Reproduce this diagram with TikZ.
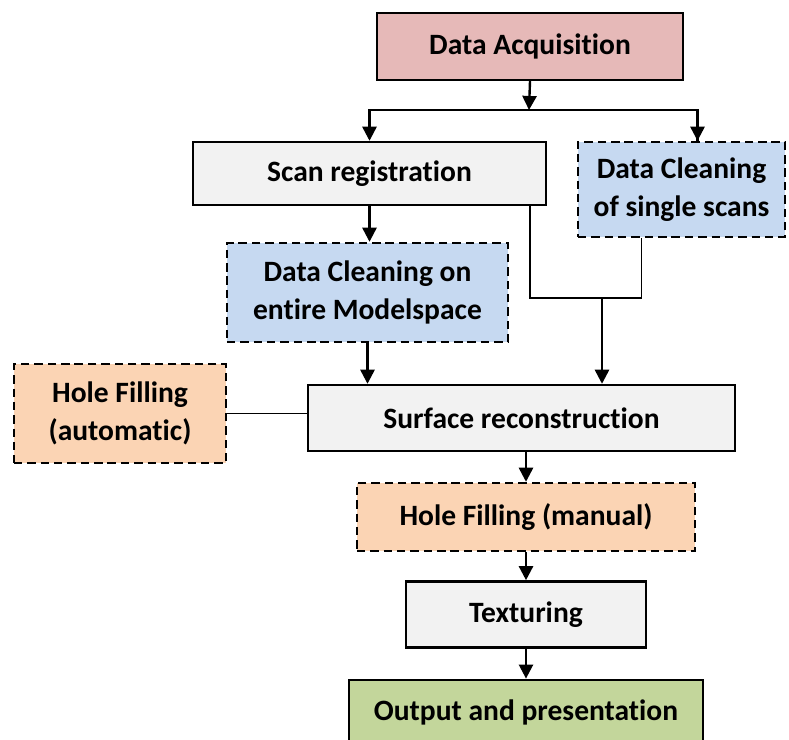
\documentclass[tikz,border=0pt]{standalone}
\usepackage{fontspec}
\setmainfont{Carlito}[Ligatures=NoCommon]
\usepackage{tikz}
\usetikzlibrary{arrows.meta, positioning, calc}
\definecolor{acqfill}{HTML}{E6B9B8}
\definecolor{stepfill}{HTML}{F2F2F2}
\definecolor{cleanfill}{HTML}{C6D9F1}
\definecolor{holefill}{HTML}{FBD4B4}
\definecolor{outfill}{HTML}{C3D69B}

\begin{document}
\begin{tikzpicture}[
  x=0.025cm, y=-0.025cm,
  box/.style={draw=black, line width=1.7pt, fill=stepfill,
              inner sep=2pt, align=center,
              font=\fontsize{21}{27}\selectfont\bfseries},
  opt/.style={box, dash pattern=on 6pt off 3.5pt},
  arr/.style={-{Triangle[length=10pt, width=10pt]}, line width=1.7pt},
  link/.style={line width=0.8pt}
]
  \useasboundingbox (0,0) rectangle (789,740);

  % Acquisition and registration
  \node[box, fill=acqfill, minimum width=7.65cm, minimum height=1.675cm]
    (acq) at (530,46.5) {Data Acquisition};
  \node[box, minimum width=8.825cm, minimum height=1.575cm]
    (scan) at (369.5,173.5) {Scan registration};
  \node[opt, fill=cleanfill, minimum width=5.175cm, minimum height=2.375cm]
    (single) at (681.5,189.5) {Data Cleaning\\of single scans};
  \node[opt, fill=cleanfill, minimum width=7.025cm, minimum height=2.475cm]
    (model) at (367.5,292.5) {Data Cleaning on\\entire Modelspace};

  % Reconstruction
  \node[box, minimum width=10.675cm, minimum height=1.65cm]
    (surf) at (521.5,418) {Surface reconstruction};
  \node[opt, fill=holefill, minimum width=5.3cm, minimum height=2.475cm]
    (auto) at (120,413.5) {Hole Filling\\(automatic)};
  \node[opt, fill=holefill, minimum width=8.45cm, minimum height=1.7cm]
    (manual) at (526,517) {Hole Filling (manual)};
  \node[box, below=0.7cm of manual, minimum width=6cm, minimum height=1.65cm]
    (tex) {Texturing};
  \node[box, fill=outfill, below=0.75cm of tex, minimum width=8.85cm, minimum height=1.65cm]
    (out) {Output and presentation};

  \coordinate (split) at (529,110);
  \coordinate (join) at (602,298);

  \draw[arr] (acq.south) -- (split);
  \draw[line width=1.7pt] (split) -| ([xshift=0.4cm]single.north);
  \draw[arr] (split) -| (scan.north);
  \draw[arr] ([xshift=0.4cm]single.north |- split) -- ([xshift=0.4cm]single.north);
  \draw[arr] (scan.south) -- (scan.south |- model.north);
  \draw[line width=1.7pt] ([xshift=-0.425cm]scan.south east) |- (join);
  \draw[link] ([xshift=1.625cm]single.south west) |- (join);
  \draw[arr] (join) -- (join |- surf.north);
  \draw[arr] (model.south) -- (model.south |- surf.north);
  \draw[link] (auto.east) -- (auto.east -| surf.west);
  \draw[arr] (manual.north |- surf.south) -- (manual.north);
  \draw[arr] (manual.south) -- (tex.north);
  \draw[arr] (tex.south) -- (out.north);
\end{tikzpicture}
\end{document}
